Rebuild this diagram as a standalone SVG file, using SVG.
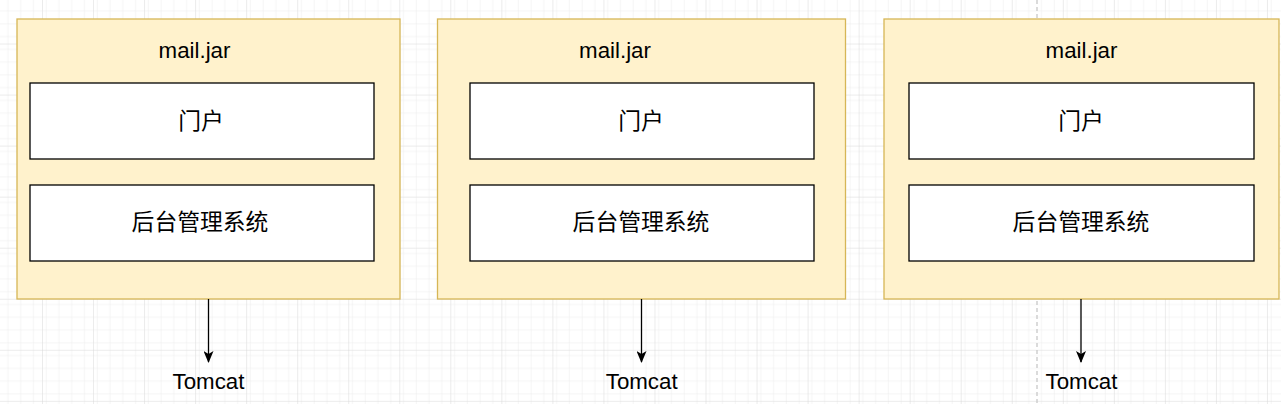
<svg xmlns="http://www.w3.org/2000/svg" width="1281" height="404" viewBox="0 0 1281 404">
<defs>
<pattern id="minor" x="-9.04" y="-7.5" width="12.76" height="12.76" patternUnits="userSpaceOnUse">
<path d="M0 0H12.76M0 0V12.76" fill="none" stroke="#ececec" stroke-width="1"/>
</pattern>
<pattern id="major" x="-9.04" y="-7.5" width="51.04" height="51.04" patternUnits="userSpaceOnUse">
<rect width="51.04" height="51.04" fill="url(#minor)"/>
<path d="M0 0H51.04M0 0V51.04" fill="none" stroke="#d8d8d8" stroke-width="1"/>
</pattern>
<marker id="arrow" viewBox="0 0 12 10" refX="11" refY="5" markerWidth="12" markerHeight="10" markerUnits="userSpaceOnUse" orient="auto">
<path d="M0 0L12 5L0 10L3 5Z" fill="#000"/>
</marker>
</defs>
<style>
.outer{fill:#fff2cc;stroke:#d6b656;stroke-width:1.3}
.inner{fill:#fff;stroke:#000;stroke-width:1.3}
.lat{font-family:"Liberation Sans",Arial,sans-serif;font-size:22.3px;fill:#000;text-anchor:middle}
.cjk{font-family:"Liberation Sans","Noto Sans CJK SC",sans-serif;font-size:22.8px;fill:#000;text-anchor:middle;dominant-baseline:central}
.edge{stroke:#000;stroke-width:1.3;fill:none}
</style>
<rect width="1281" height="404" fill="#fff"/>
<rect width="1281" height="404" fill="url(#major)"/>
<line x1="1037" y1="0" x2="1037" y2="404" stroke="#c8c8c8" stroke-width="1.3" stroke-dasharray="4 3"/>
<g id="node1">
<rect class="outer" x="17" y="19" width="383" height="280"/>
<text class="lat" x="194.5" y="57.5">mail.jar</text>
<rect class="inner" x="30" y="83" width="344" height="76"/>
<text class="cjk" x="201" y="120.5">门户</text>
<rect class="inner" x="30" y="185" width="344" height="76"/>
<text class="cjk" x="200" y="222">后台管理系统</text>
</g>
<g id="node2">
<rect class="outer" x="437.5" y="19" width="408" height="280"/>
<text class="lat" x="615" y="57.5">mail.jar</text>
<rect class="inner" x="470" y="83" width="344" height="76"/>
<text class="cjk" x="641" y="120.5">门户</text>
<rect class="inner" x="470" y="185" width="344" height="76"/>
<text class="cjk" x="641" y="222">后台管理系统</text>
</g>
<g id="node3">
<rect class="outer" x="884" y="19" width="395" height="280"/>
<text class="lat" x="1081.5" y="57.5">mail.jar</text>
<rect class="inner" x="909" y="83" width="345" height="76"/>
<text class="cjk" x="1081" y="120.5">门户</text>
<rect class="inner" x="909" y="185" width="345" height="76"/>
<text class="cjk" x="1081" y="222">后台管理系统</text>
</g>
<g id="tomcat1"><text class="lat" x="208.5" y="389">Tomcat</text></g>
<g id="tomcat2"><text class="lat" x="641.7" y="389">Tomcat</text></g>
<g id="tomcat3"><text class="lat" x="1081.5" y="389">Tomcat</text></g>
<g id="connectors">
<line class="edge" x1="208.5" y1="299" x2="208.5" y2="362" marker-end="url(#arrow)"/>
<line class="edge" x1="641.5" y1="299" x2="641.5" y2="362" marker-end="url(#arrow)"/>
<line class="edge" x1="1081" y1="299" x2="1081" y2="362" marker-end="url(#arrow)"/>
</g>
</svg>
